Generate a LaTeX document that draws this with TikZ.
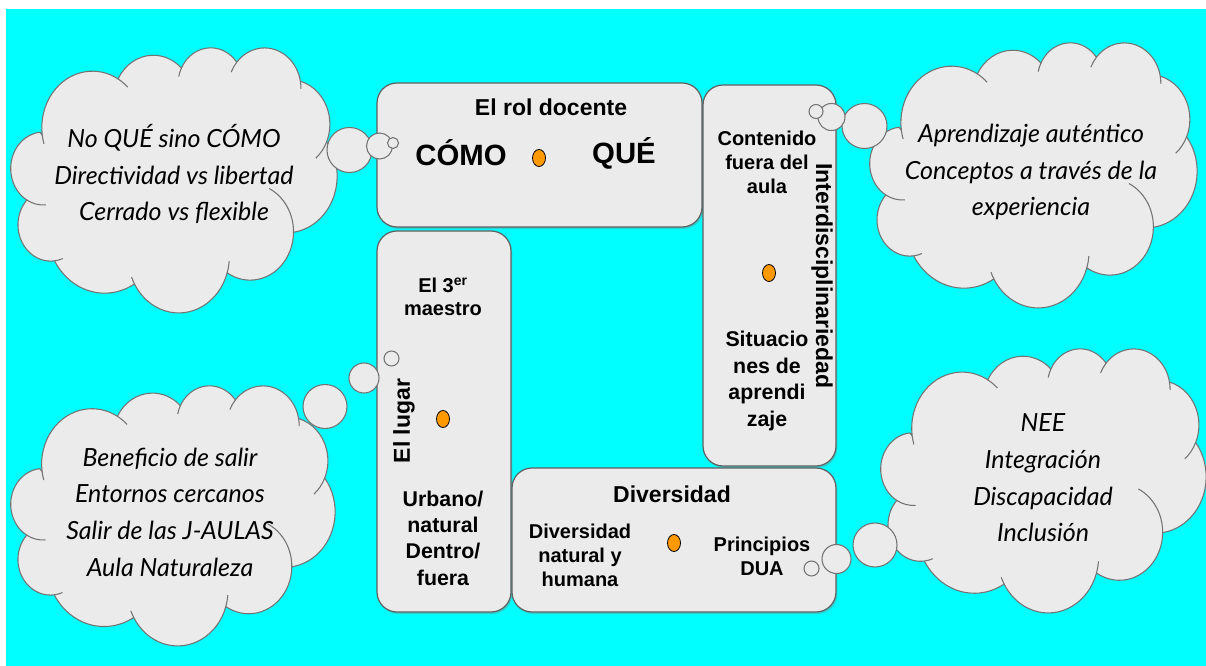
\documentclass[tikz,border=0pt]{standalone}
\usepackage{fontspec}
\setmainfont{Liberation Sans}
\newfontfamily\handfont{Lato}
\usetikzlibrary{shapes.geometric,shadows}
\definecolor{bgcyan}{HTML}{00FFFF}
\definecolor{boxfill}{HTML}{EBEBEB}
\definecolor{boxline}{HTML}{5F5F5F}
\definecolor{cloudline}{HTML}{737373}
\definecolor{dotfill}{HTML}{FF9900}
% arc helper: name, x radius, y radius, start angle (visual), sweep (visual)
\newcommand\defarc[5]{%
  \pgfmathsetmacro\tmpS{atan2((#2)*sin(#4),(#3)*cos(#4))}%
  \pgfmathsetmacro\tmpE{atan2((#2)*sin((#4)+(#5)),(#3)*cos((#4)+(#5)))}%
  \pgfmathsetmacro\tmpD{(#5)>0 ? mod(\tmpE-\tmpS+720,360) : -mod(\tmpS-\tmpE+720,360)}%
  \expandafter\let\csname #1S\endcsname\tmpS
  \expandafter\let\csname #1D\endcsname\tmpD}
\defarc{arcA}{67.53}{91.90}{-190.48748}{123.78053}
\defarc{arcB}{53.33}{72.67}{-144.10238}{89.94523}
\defarc{arcC}{43.65}{59.45}{-145.80792}{99.72302}
\defarc{arcD}{48.57}{65.95}{-130.98607}{117.24173}
\defarc{arcE}{53.33}{72.73}{-78.70888}{109.02692}
\defarc{arcF}{67.75}{92.20}{-46.26725}{130.269}
\defarc{arcG}{57.85}{78.67}{0.62502}{114.03333}
\defarc{arcH}{67.52}{92.15}{22.45913}{120.29897}
\defarc{arcI}{77.20}{105.43}{66.24263}{75.49225}
\defarc{arcJ}{43.60}{59.18}{-274.94208}{146.73557}
\defarc{arcK}{43.45}{59.45}{-246.8285}{152.51885}
\defarc{inK}{43.45}{59.45}{-246.8285}{-26.4295}
\defarc{inJ}{43.60}{59.18}{-274.94208}{-11.44747}
\defarc{inHb}{67.52}{92.15}{142.7581}{8.94715}
\defarc{inHa}{67.52}{92.15}{22.45913}{-16.0}
\defarc{inG}{57.85}{78.67}{0.62502}{-70.91737}
\defarc{inE}{53.33}{72.73}{30.31804}{27.7515}
\defarc{inDb}{48.57}{65.95}{-13.74434}{14.8589}
\defarc{inDa}{48.57}{65.95}{-130.98607}{-18.19537}
\defarc{inC}{43.65}{59.45}{-145.80792}{-17.68635}
\defarc{inAb}{67.53}{91.90}{-66.70695}{12.31935}
\defarc{inAa}{67.53}{91.90}{-190.48748}{-11.85817}
% thought cloud: name, left, top, width, height (pixels)
\newcommand\thoughtcloud[5]{%
\begin{scope}[shift={(#2,#3)}, xscale=#4/432, yscale=#5/432]
\path[cloudbody] (39.00,143.70) coordinate (#1J0)
  arc[start angle=\arcAS, delta angle=\arcAD, x radius=67.53, y radius=91.90] coordinate (#1J1)
  arc[start angle=\arcBS, delta angle=\arcBD, x radius=53.33, y radius=72.67] coordinate (#1J2)
  arc[start angle=\arcCS, delta angle=\arcCD, x radius=43.65, y radius=59.45] coordinate (#1J3)
  arc[start angle=\arcDS, delta angle=\arcDD, x radius=48.57, y radius=65.95] coordinate (#1J4)
  arc[start angle=\arcES, delta angle=\arcED, x radius=53.33, y radius=72.73] coordinate (#1J5)
  arc[start angle=\arcFS, delta angle=\arcFD, x radius=67.75, y radius=92.20] coordinate (#1J6)
  arc[start angle=\arcGS, delta angle=\arcGD, x radius=57.85, y radius=78.67] coordinate (#1J7)
  arc[start angle=\arcHS, delta angle=\arcHD, x radius=67.52, y radius=92.15] coordinate (#1J8)
  arc[start angle=\arcIS, delta angle=\arcID, x radius=77.20, y radius=105.43] coordinate (#1J9)
  arc[start angle=\arcJS, delta angle=\arcJD, x radius=43.60, y radius=59.18] coordinate (#1J10)
  arc[start angle=\arcKS, delta angle=\arcKD, x radius=43.45, y radius=59.45] -- cycle;
\draw[cloudedge] (#1J10) arc[start angle=\inKS, delta angle=\inKD, x radius=43.45, y radius=59.45];
\draw[cloudedge] (#1J9) arc[start angle=\inJS, delta angle=\inJD, x radius=43.60, y radius=59.18];
\draw[cloudedge] (#1J8) arc[start angle=\inHbS, delta angle=\inHbD, x radius=67.52, y radius=92.15];
\draw[cloudedge] (#1J7) arc[start angle=\inHaS, delta angle=\inHaD, x radius=67.52, y radius=92.15];
\draw[cloudedge] (#1J6) arc[start angle=\inGS, delta angle=\inGD, x radius=57.85, y radius=78.67];
\draw[cloudedge] (#1J5) arc[start angle=\inES, delta angle=\inED, x radius=53.33, y radius=72.73];
\draw[cloudedge] (#1J4) arc[start angle=\inDbS, delta angle=\inDbD, x radius=48.57, y radius=65.95];
\draw[cloudedge] (#1J3) arc[start angle=\inDaS, delta angle=\inDaD, x radius=48.57, y radius=65.95];
\draw[cloudedge] (#1J2) arc[start angle=\inCS, delta angle=\inCD, x radius=43.65, y radius=59.45];
\draw[cloudedge] (#1J1) arc[start angle=\inAbS, delta angle=\inAbD, x radius=67.53, y radius=91.90];
\draw[cloudedge] (#1J0) arc[start angle=\inAaS, delta angle=\inAaD, x radius=67.53, y radius=91.90];
\end{scope}}
\begin{document}
\begin{tikzpicture}[x=0.75pt,y=-0.75pt,
  cloudbody/.style={draw=cloudline, line width=0.8pt, fill=boxfill},
  cloudedge/.style={draw=cloudline, line width=0.8pt},
  panel/.style={draw=boxline, line width=0.9pt, fill=boxfill, rounded corners=15pt,
    inner sep=0pt, drop shadow={shadow xshift=1pt, shadow yshift=-1.5pt, opacity=0.35}},
  bubble/.style={circle, draw=cloudline, line width=0.8pt, fill=boxfill, inner sep=0pt},
  dot/.style={ellipse, draw=black, line width=0.6pt, fill=dotfill,
    minimum width=9.75pt, minimum height=12.75pt, inner sep=0pt},
  title/.style={font=\fontsize{17.25}{20}\selectfont\bfseries, inner sep=0pt},
  big/.style={font=\fontsize{22}{26}\selectfont\bfseries, inner sep=0pt},
  lbl/.style={font=\fontsize{15}{18}\selectfont\bfseries, align=center, inner sep=0pt},
  lblb/.style={font=\fontsize{16}{19.75}\selectfont\bfseries, align=center, inner sep=0pt},
  hand/.style={font=\handfont\itshape\fontsize{18.75}{27.5}\selectfont, align=center, inner sep=0pt}
]
\useasboundingbox (0,0) rectangle (1206,666);
\fill[white] (0,0) rectangle (1206,666);
\fill[bgcyan] (6,9) rectangle (1206,666);

% clouds
\thoughtcloud{cTL}{13}{47}{324}{265}
\thoughtcloud{cTR}{872}{42}{325}{265}
\thoughtcloud{cBL}{13}{385}{322}{260}
\thoughtcloud{cBR}{883}{348}{323}{264}

% panels
\node[panel, minimum width=243.75pt, minimum height=108pt] (pTop) at (539.5,155) {};
\node[panel, minimum width=99.75pt, minimum height=285.75pt] (pRight) at (769.5,275.5) {};
\node[panel, minimum width=100.5pt, minimum height=285.75pt] (pLeft) at (444,421.5) {};
\node[panel, minimum width=243pt, minimum height=108pt] (pBottom) at (674,540) {};

% thought bubbles
\node[bubble, minimum size=33.75pt] (bTL1) at (349.5,150) {};
\node[bubble, minimum size=19.5pt] (bTL2) at (379.5,146) {};
\node[bubble, minimum size=8.25pt] (bTL3) at (393,143) {};

\node[bubble, minimum size=33.75pt] (bTR1) at (864.5,126) {};
\node[bubble, minimum size=20.25pt] (bTR2) at (831.5,117) {};
\node[bubble, minimum size=10.5pt] (bTR3) at (816,111.5) {};

\node[bubble, minimum size=33pt] (bBL1) at (325,406.5) {};
\node[bubble, minimum size=22.5pt] (bBL2) at (364,378) {};
\node[bubble, minimum size=11.25pt] (bBL3) at (391.5,358.5) {};

\node[bubble, minimum size=33pt] (bBR1) at (875,545) {};
\node[bubble, minimum size=21.75pt] (bBR2) at (836.5,559) {};
\node[bubble, minimum size=11.25pt] (bBR3) at (811.5,568.5) {};

% dots
\node[dot] (dTop) at (539,158) {};
\node[dot] (dRight) at (769,273) {};
\node[dot] (dLeft) at (443,419) {};
\node[dot] (dBottom) at (674,543) {};

% panel texts
\node[title] (tRol) at (551,107) {El rol docente};
\node[big] (tComo) at (461,153) {CÓMO};
\node[big] (tQue) at (624,153) {QUÉ};

\node[lbl] (tCont) at (767,162) {Contenido\\fuera del\\aula};
\node[title, rotate=-90] (tInter) at (822,276) {Interdisciplinariedad};
\node[lblb, font=\fontsize{16}{20}\selectfont\bfseries] (tSit) at (767,381) {Situacio\\nes de\\aprendi\\zaje};

\node[lbl, font=\fontsize{15}{17.25}\selectfont\bfseries] (tMaestro) at (443,297) {El 3\textsuperscript{er}\\maestro};
\node[title, rotate=90] (tLugar) at (404,421) {El lugar};
\node[lblb] (tUrb) at (443,538) {Urbano/\\natural\\Dentro/\\fuera};

\node[title] (tDiv) at (672,494) {Diversidad};
\node[lbl] (tDivNat) at (580,555) {Diversidad\\natural y\\humana};
\node[lbl] (tDUA) at (762,556) {Principios\\DUA};

% cloud texts
\node[hand] (hTL) at (174,174) {No QUÉ sino CÓMO\\Directividad vs libertad\\Cerrado vs flexible};
\node[hand] (hTR) at (1031,172) {Aprendizaje auténtico\\Conceptos a través de la\\experiencia};
\node[hand] (hBL) at (170,512) {Beneficio de salir\\Entornos cercanos\\Salir de las J-AULAS\\Aula Naturaleza};
\node[hand] (hBR) at (1043,478) {NEE\\Integración\\Discapacidad\\Inclusión};
\end{tikzpicture}
\end{document}
